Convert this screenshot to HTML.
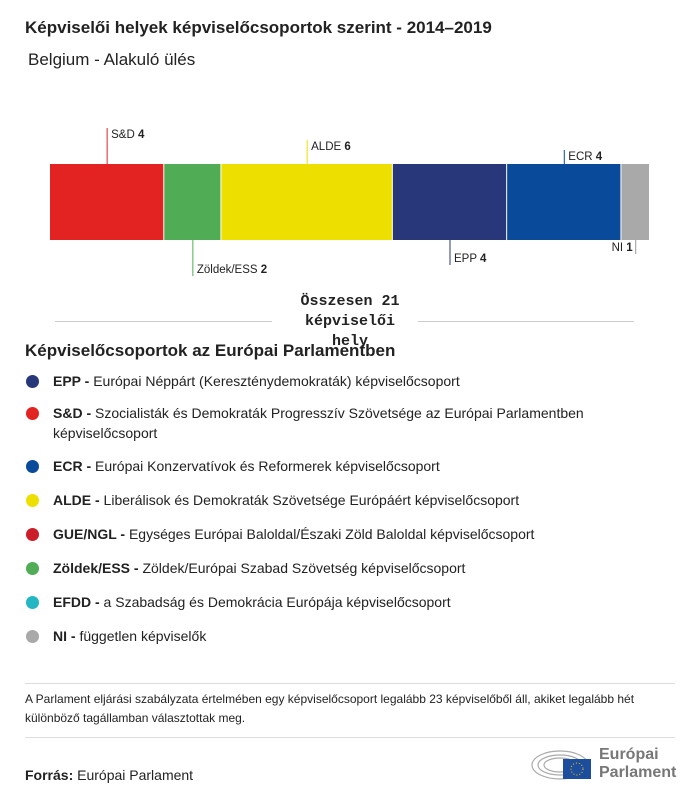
<!DOCTYPE html>
<html><head><meta charset="utf-8"><style>
body{margin:0;background:#fff;font-family:"Liberation Sans",sans-serif;color:#222;}
#wrap{position:relative;width:700px;height:801px;overflow:hidden;}
.abs{position:absolute;white-space:nowrap;}
.leg{position:absolute;left:53px;font-size:14px;line-height:20px;color:#222;width:600px;}
.dot{position:absolute;left:26px;width:13px;height:13px;border-radius:50%;}
</style></head><body>
<div id="wrap">
<div class="abs" style="left:25px;top:18px;font-size:17px;font-weight:bold;">Képviselői helyek képviselőcsoportok szerint - 2014–2019</div>
<div class="abs" style="left:28px;top:50px;font-size:17px;">Belgium - Alakuló ülés</div>
<svg id="bar" width="700" height="300" style="position:absolute;left:0;top:0"></svg>
<div class="abs" style="left:290px;top:292px;width:120px;text-align:center;white-space:normal;font-family:'Liberation Mono',monospace;font-weight:bold;font-size:15px;line-height:20px;">Összesen 21 képviselői hely</div>
<div class="abs" style="left:55px;top:321px;width:217px;height:1px;background:#ccc"></div>
<div class="abs" style="left:418px;top:321px;width:216px;height:1px;background:#ccc"></div>
<div class="abs" style="left:25px;top:341px;font-size:17px;font-weight:bold;">Képviselőcsoportok az Európai Parlamentben</div>
<div id="legend"></div>
<div class="abs" style="left:25px;top:683px;width:650px;height:1px;background:#ddd"></div>
<div class="abs" style="left:25px;top:690px;width:630px;white-space:normal;font-size:12px;line-height:19px;">A Parlament eljárási szabályzata értelmében egy képviselőcsoport legalább 23 képviselőből áll, akiket legalább hét különböző tagállamban választottak meg.</div>
<div class="abs" style="left:25px;top:737px;width:650px;height:1px;background:#ddd"></div>
<div class="abs" style="left:25px;top:767px;font-size:14px;"><b>Forrás:</b> Európai Parlament</div>
<div style="position:absolute;left:530px;top:745px;width:150px;height:40px;">
<svg width="62" height="38" style="position:absolute;left:0;top:0">
<g fill="none" stroke="#aaa" stroke-width="1.2">
<ellipse cx="30" cy="20" rx="28" ry="14"/><ellipse cx="30" cy="20" rx="22" ry="10"/><ellipse cx="30" cy="20" rx="16" ry="7"/></g>
<rect x="33" y="14" width="28" height="20" fill="#1d4e9e"/>
<circle cx="47" cy="24" r="6" fill="none" stroke="#fc0" stroke-width="1" stroke-dasharray="1 2"/>
</svg>
<div class="abs" style="left:69px;top:1px;font-size:16px;font-weight:bold;color:#777;line-height:18px;">Európai<br>Parlament</div>
</div>
</div>
<script>
const groups=["S&D","Zöldek/ESS","ALDE","EPP","ECR","NI"];
const seats=[4,2,6,4,4,1];
const colors=["#e32322","#50ad55","#eddf00","#283779","#0a4a9b","#a9a9a9"];
const labelPos=["top","bottom","top","bottom","top","bottom"];
const svg=document.getElementById('bar');const NS="http://www.w3.org/2000/svg";
const total=seats.reduce((a,b)=>a+b,0);
const X0=50,W=600,Y0=164,H=76;
const xs=v=>X0+v/total*W;
let cum=0;
const topLen=[36,24,14],botLen=[36,25,14];let ti=0,bi=0;
seats.forEach((s,i)=>{
 const x=xs(cum),w=xs(cum+s)-x;cum+=s;
 const r=document.createElementNS(NS,'rect');
 r.setAttribute('x',x);r.setAttribute('y',Y0);r.setAttribute('width',Math.max(w-1,0));r.setAttribute('height',H);r.setAttribute('fill',colors[i]);
 
 
 svg.appendChild(r);
 const cx=x+w/2;
 const ln=document.createElementNS(NS,'line');const t=document.createElementNS(NS,'text');
 t.setAttribute('font-size','11.5');t.setAttribute('fill','#222');
 t.innerHTML=groups[i].replace('&','&amp;')+' <tspan font-weight="bold">'+s+'</tspan>';
 let y1,y2,ty,tx=cx+4,anchor='start';
 if(labelPos[i]==='top'){const L=topLen[ti++];y1=Y0-L;y2=Y0;ty=y1+10;}
 else{const L=botLen[bi++];y1=Y0+H;y2=Y0+H+L;ty=y2-3;}
 if(i===seats.length-1){tx=cx-3;anchor='end';ty=Y0+H+11;}
 ln.setAttribute('x1',cx);ln.setAttribute('x2',cx);ln.setAttribute('y1',y1);ln.setAttribute('y2',y2);
 ln.setAttribute('stroke',i===seats.length-1?'#999':colors[i]);ln.setAttribute('stroke-width','1');
 
 
 t.setAttribute('x',tx);t.setAttribute('y',ty);t.setAttribute('text-anchor',anchor);
 
 
 svg.appendChild(ln);svg.appendChild(t);
});
const legAbbr=["EPP","S&D","ECR","ALDE","GUE/NGL","Zöldek/ESS","EFDD","NI"];
const legText=["Európai Néppárt (Kereszténydemokraták) képviselőcsoport","Szocialisták és Demokraták Progresszív Szövetsége az Európai Parlamentben képviselőcsoport","Európai Konzervatívok és Reformerek képviselőcsoport","Liberálisok és Demokraták Szövetsége Európáért képviselőcsoport","Egységes Európai Baloldal/Északi Zöld Baloldal képviselőcsoport","Zöldek/Európai Szabad Szövetség képviselőcsoport","a Szabadság és Demokrácia Európája képviselőcsoport","független képviselők"];
const legColors=["#283779","#e32322","#0a4a9b","#eddf00","#cc1e28","#50ad55","#24b6c2","#a9a9a9"];
const legY=[371,403,456,490,524,558,592,626];
const lg=document.getElementById('legend');
legAbbr.forEach((a,i)=>{
 const d=document.createElement('div');d.className='dot';d.style.top=(legY[i]+4)+'px';d.style.background=legColors[i];
 
 
 const t=document.createElement('div');t.className='leg';t.style.top=legY[i]+'px';
 t.innerHTML='<b>'+a.replace('&','&amp;')+' -</b> '+legText[i];
 
 
 lg.appendChild(d);lg.appendChild(t);
});
</script>
</body></html>
